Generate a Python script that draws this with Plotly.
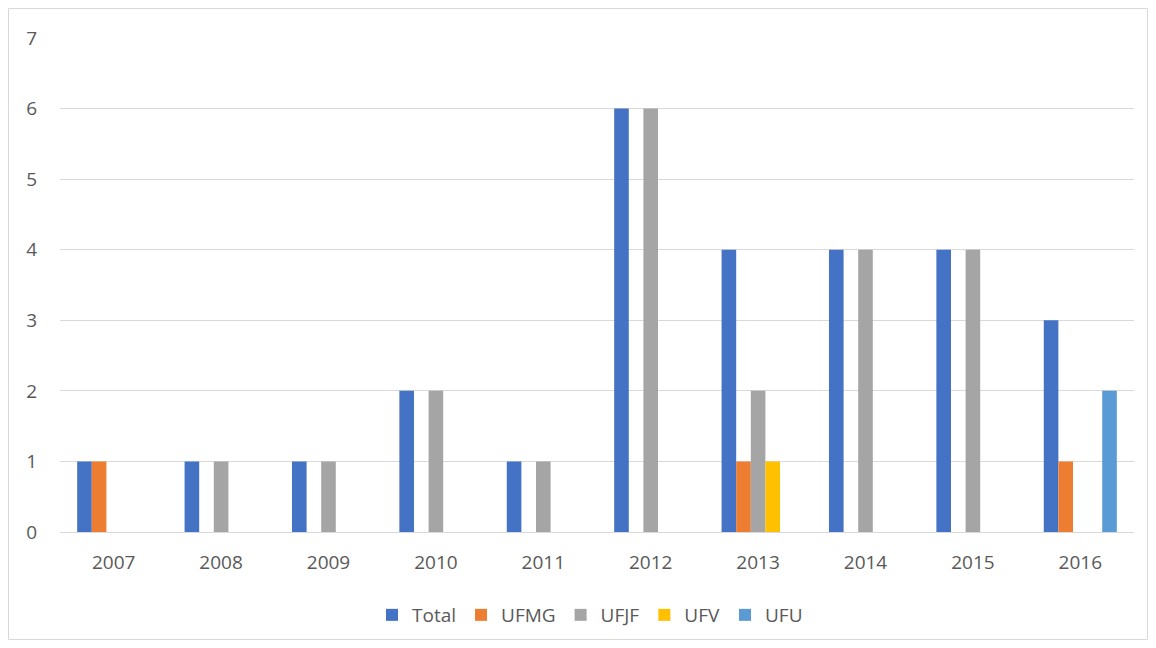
import plotly.graph_objects as go

years = ["2007", "2008", "2009", "2010", "2011", "2012", "2013", "2014", "2015", "2016"]
total = [1, 1, 1, 2, 1, 6, 4, 4, 4, 3]
ufmg = [1, 0, 0, 0, 0, 0, 1, 0, 0, 1]
ufjf = [0, 1, 1, 2, 1, 6, 2, 4, 4, 0]
ufv = [0, 0, 0, 0, 0, 0, 1, 0, 0, 0]
ufu = [0, 0, 0, 0, 0, 0, 0, 0, 0, 2]

series = [
    ("Total", total, "#4472C4"),
    ("UFMG", ufmg, "#ED7D31"),
    ("UFJF", ufjf, "#A5A5A5"),
    ("UFV", ufv, "#FFC000"),
    ("UFU", ufu, "#5B9BD5"),
]

fig = go.Figure()
for name, vals, color in series:
    fig.add_trace(go.Bar(x=years, y=vals, name=name, marker=dict(color=color, line=dict(width=0))))

# page has an 8px body margin; work in page pixel coords and subtract it
OFF = 8
W, H = 1156 - OFF, 648 - OFF
L, R, T, B = 60 - OFF, 22, 38 - OFF, 648 - 532
pw, ph = W - L - R, H - T - B

def px(x):
    return (x - OFF - L) / pw

def py(y):
    return (H - B - (y - OFF)) / ph

fig.update_layout(
    width=W, height=H,
    margin=dict(l=L, r=R, t=T, b=B, pad=0),
    paper_bgcolor="white", plot_bgcolor="white",
    barmode="group", bargap=0.32, bargroupgap=0,
    font=dict(family="Open Sans, Liberation Sans, sans-serif", size=19, color="#595959"),
    xaxis=dict(showgrid=False, showline=True, linecolor="#d9d9d9", linewidth=1,
               ticks="", ticklabelstandoff=13),
    yaxis=dict(range=[0, 7], dtick=1, showgrid=True, gridcolor="#d9d9d9", gridwidth=1,
               zeroline=False, showline=False, ticks="", ticklabelstandoff=22),
    legend=dict(orientation="h", x=px(590), xanchor="center", y=py(615), yanchor="middle",
                font=dict(size=19, color="#595959"), itemwidth=30, tracegroupgap=0),
    shapes=[dict(type="rect", xref="paper", yref="paper",
                 x0=px(8.5), x1=px(1147.5), y0=py(639.5), y1=py(8.5),
                 line=dict(color="#d9d9d9", width=1), layer="below")],
)

fig.write_html("out.html")
